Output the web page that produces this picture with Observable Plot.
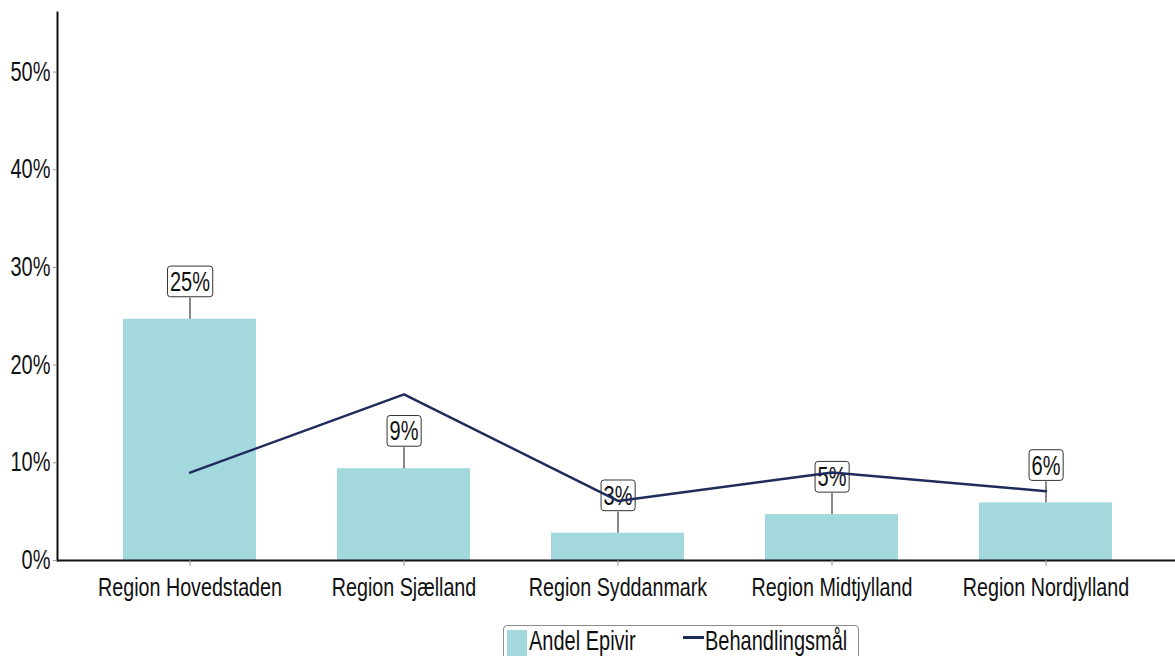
<!DOCTYPE html>
<html><head><meta charset="utf-8">
<script src="https://cdn.jsdelivr.net/npm/d3@7"></script>
<script src="https://cdn.jsdelivr.net/npm/@observablehq/plot@0.6"></script>
<style>
body{margin:0;background:#fff;font-family:"Liberation Sans",Arial,sans-serif;overflow:hidden;}
#wrap{position:relative;width:1175px;height:656px;}
#legend{position:absolute;left:503px;top:625px;width:356px;height:40px;border:1px solid #8c8c8c;border-radius:4px;box-sizing:border-box;background:#fff;}
#legend .sw{position:absolute;left:3px;top:4px;width:20px;height:34px;background:#a3d9dc;}
#legend .ln{position:absolute;left:179px;top:10px;width:21px;height:2.5px;background:#1f2b5b;}
#legend .tx{position:absolute;top:1px;font-size:20px;line-height:20px;color:#111;white-space:nowrap;transform:scaleY(1.35);transform-origin:0 0;}
</style></head><body>
<div id="wrap"><div id="chart"></div>
<div id="legend"><div class="sw"></div><div class="tx" style="left:25px">Andel Epivir</div><div class="ln"></div><div class="tx" style="left:201px">Behandlingsmål</div></div>
</div>
<script>
const regions = ["Region Hovedstaden", "Region Sjælland", "Region Syddanmark", "Region Midtjylland", "Region Nordjylland"];
const andelEpivir = [24.7, 9.4, 2.8, 4.7, 5.9];
const behandlingsmaal = [9.0, 17.0, 6.1, 9.0, 7.1];
const valueLabels = ["25%", "9%", "3%", "5%", "6%"];
const yTicks = [0, 10, 20, 30, 40, 50];

const data = regions.map((r, i) => ({region: r, andel: andelEpivir[i], maal: behandlingsmaal[i], label: valueLabels[i]}));

const plot = Plot.plot({
  width: 1175, height: 618,
  marginLeft: 57, marginRight: 0, marginTop: 12, marginBottom: 58,
  style: {fontFamily: "Liberation Sans, Arial, sans-serif", fontSize: "20px", color: "#111", background: "white"},
  x: {domain: regions, range: [57, 1178.5], paddingInner: 0.38, paddingOuter: 0.3, label: null},
  y: {domain: [0, 56.1], label: null},
  marks: [
    Plot.barY(data, {x: "region", y: "andel", fill: "#a3d9dc"}),
    Plot.ruleX(data, {x: "region", y1: "andel", y2: "andel", insetBottom: 21, stroke: "#111", strokeWidth: 1}),
    Plot.text(data, {x: "region", y: "andel", text: "label", dy: -37, className: "vlbl", fontSize: 20, fill: "#111"}),
    Plot.lineY(data, {x: "region", y: "maal", stroke: "#1f2b5b", strokeWidth: 2.5}),
    Plot.ruleY([0], {stroke: "#111", strokeWidth: 2}),
    Plot.frame({anchor: "left", stroke: "#111", strokeWidth: 2}),
    Plot.axisY({ticks: yTicks, tickFormat: d => d + "%", tickSize: 4, tickPadding: 3, stroke: "#999", fontSize: 20, label: null}),
    Plot.axisX({tickSize: 6, tickPadding: 11, stroke: "#999", fontSize: 19.7, label: null})
  ]
});
document.getElementById("chart").appendChild(plot);

const S = 1.35;
// label boxes
plot.querySelectorAll("g.vlbl text").forEach(t => {
  const bb = t.getBBox();
  const r = document.createElementNS("http://www.w3.org/2000/svg", "rect");
  const padX = 2.5;
  r.setAttribute("x", bb.x - padX);
  r.setAttribute("y", bb.y * S - 0.5);
  r.setAttribute("width", bb.width + 2 * padX);
  r.setAttribute("height", bb.height * S + 1);
  r.setAttribute("rx", 3);
  r.setAttribute("fill", "white");
  r.setAttribute("stroke", "#333");
  r.setAttribute("stroke-width", 1);
  const tr = t.getAttribute("transform");
  if (tr) r.setAttribute("transform", tr);
  t.parentNode.insertBefore(r, t);
});
// vertical stretch of all texts
plot.querySelectorAll("text").forEach(t => {
  const tr = t.getAttribute("transform") || "";
  t.setAttribute("transform", tr + ` scale(1,${S})`);
});
</script>
</body></html>
